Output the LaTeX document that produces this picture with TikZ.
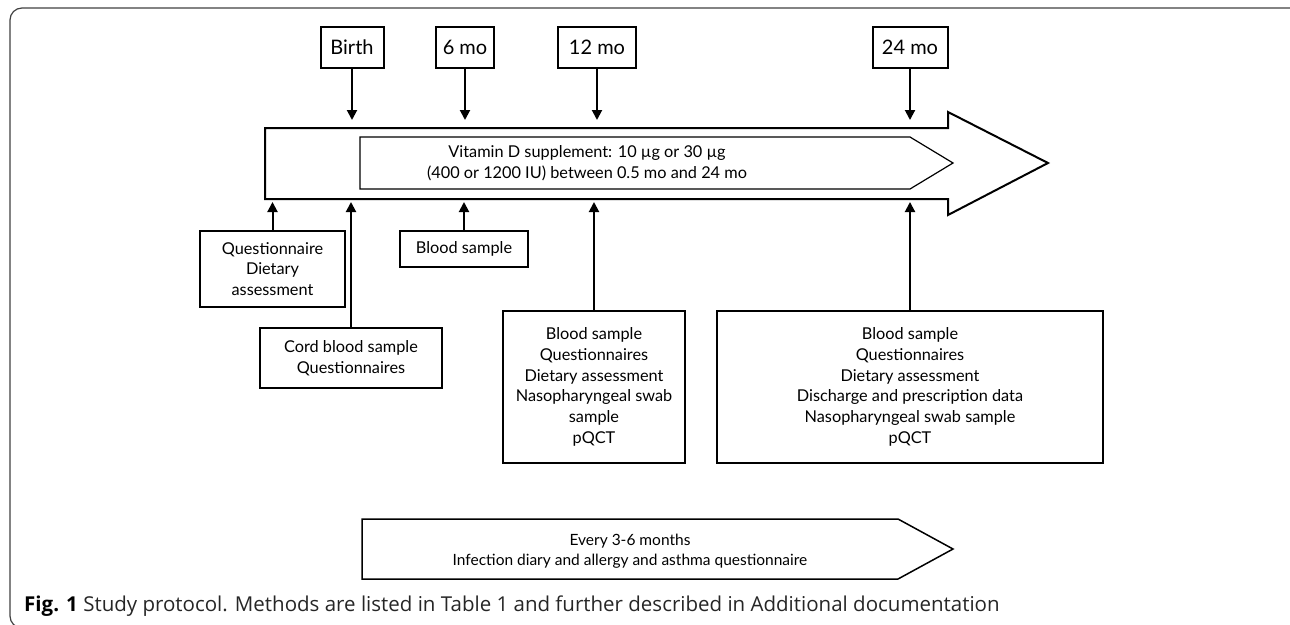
\documentclass[tikz,border=0pt]{standalone}
\usepackage{fontspec}
\setmainfont{Lato}
\newfontfamily\capfont{Open Sans}
\usetikzlibrary{arrows.meta}

\tikzset{
  tbox/.style={draw,line width=2pt,inner sep=0pt,minimum height=41,font=\fontsize{20}{24}\selectfont},
  mbox/.style={draw,line width=2pt,inner sep=0pt,align=center,font=\fontsize{16.3}{20.7}\selectfont},
  arr/.style={line width=2pt,-{Triangle[length=10pt,width=10pt]}},
}

\begin{document}
\begin{tikzpicture}[x=1pt,y=-1pt]
        \useasboundingbox (0,0) rectangle (1290,624);
        \draw[line width=1.2pt,black!75,rounded corners=12] (1302,8)--(10,8)--(10,628)--(40,628);

        % time line
        \draw[line width=2pt] (265,128)--(948,128)--(948,112)--(1048,163)--(948,215)--(948,199)--(265,199)--cycle;
        \draw[line width=1.2pt] (360,137)--(910,137)--(953,163)--(910,189)--(360,189)--cycle;
        \node (vit) [align=center,font=\fontsize{16.3}{20.7}\selectfont] at (587,163) {Vitamin D supplement: 10 µg or 30 µg\\(400 or 1200 IU) between 0.5 mo and 24 mo};

        \coordinate (top) at (0,120);
        \coordinate (bot) at (0,202);

        \node (birth) [tbox,minimum width=63] at (352,47.5) {Birth};
        \node (m6) [tbox,minimum width=58] at (465,47.5) {6 mo};
        \node (m12) [tbox,minimum width=78] at (597,47.5) {12 mo};
        \node (m24) [tbox,minimum width=75] at (910,47.5) {24 mo};
        \draw[arr] (birth)--(birth |- top);
        \draw[arr] (m6)--(m6 |- top);
        \draw[arr] (m12)--(m12 |- top);
        \draw[arr] (m24)--(m24 |- top);

        % visits
        \node (quest) [mbox,minimum width=145,minimum height=76] at (272.5,269) {Questionnaire\\Dietary\\assessment};
        \node (cord) [mbox,minimum width=182,minimum height=60] at (351,358) {Cord blood sample\\Questionnaires};
        \node (blood) [mbox,minimum width=128,minimum height=36] at (464,249) {Blood sample};
        \node (v12) [mbox,minimum width=182,minimum height=152] at (594,387) {Blood sample\\Questionnaires\\Dietary assessment\\Nasopharyngeal swab\\sample\\pQCT};
        \node (v24) [mbox,minimum width=386,minimum height=152] at (910,387) {Blood sample\\Questionnaires\\Dietary assessment\\Discharge and prescription data\\Nasopharyngeal swab sample\\pQCT};
        \draw[arr] (quest)--(quest |- bot);
        \draw[arr] (cord)--(cord |- bot);
        \draw[arr] (blood)--(blood |- bot);
        \draw[arr] (v12)--(v12 |- bot);
        \draw[arr] (v24)--(v24 |- bot);

        % follow up
        \draw[line width=1.5pt] (362,519)--(898,519)--(953,549)--(898,579)--(362,579)--cycle;
        \node (diary) [align=center,font=\fontsize{15.5}{20}\selectfont] at (630,551) {Every 3-6 months\\Infection diary and allergy and asthma questionnaire};

        \node (cap) [anchor=west,inner sep=0pt,text=black!85,font=\capfont\fontsize{20.5}{24}\selectfont] at (24,606) {\textbf{\color{black}Fig. 1} Study protocol. Methods are listed in Table 1 and further described in Additional documentation};
\end{tikzpicture}
\end{document}
